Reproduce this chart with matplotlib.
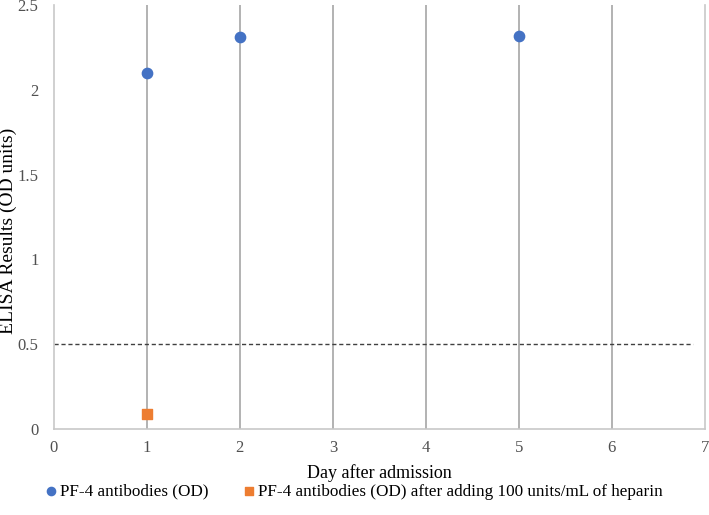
import matplotlib
matplotlib.use("Agg")
import matplotlib.pyplot as plt

days = [1, 2, 5]
pf4_od = [2.10, 2.31, 2.32]
heparin_days = [1]
heparin_od = [0.09]
threshold = 0.5
x_ticks = [0, 1, 2, 3, 4, 5, 6, 7]
y_ticks = [0, 0.5, 1, 1.5, 2, 2.5]
y_labels = ["0", "0.5", "1", "1.5", "2", "2.5"]

plt.rcParams['font.family'] = ['Liberation Serif', 'DejaVu Serif']
fig = plt.figure(figsize=(7.09, 5.15), dpi=100)
ax = fig.add_axes([0.076, 0.167, 0.918, 0.823])

ax.set_xlim(0, 7)
ax.set_ylim(0, 2.5)
ax.set_xticks(x_ticks)
ax.set_yticks(y_ticks)
ax.set_yticklabels(y_labels)
ax.tick_params(length=0, labelsize=12, colors='#505050')
ax.tick_params(axis='y', pad=11)
ax.tick_params(axis='x', pad=8)
for x in x_ticks[1:-1]:
    ax.axvline(x, color='#a6a6a6', lw=1.2, zorder=1)
ax.spines['top'].set_visible(False)
for s in ['left', 'right', 'bottom']:
    ax.spines[s].set_color('#c8c8c8')
    ax.spines[s].set_linewidth(1.2)

ax.plot([0, 6.87], [threshold, threshold], ls=(0, (3, 2)), color='#404040', lw=1, zorder=2)
ax.scatter(days, pf4_od, s=55, marker='o', color='#4472c4', zorder=3, label='PF-4 antibodies (OD)')
ax.scatter(heparin_days, heparin_od, s=55, marker='s', color='#ed7d31', zorder=3,
           label='PF-4 antibodies (OD) after adding 100 units/mL of heparin')

ax.set_xlabel('Day after admission', fontsize=13, color='#000000', labelpad=6)
ax.set_ylabel('ELISA Results (OD units)', fontsize=14, color='#000000')
ax.yaxis.set_label_coords(-0.056, 0.467)

fig.legend(loc='center', bbox_to_anchor=(0.5, 0.045), ncol=2, frameon=False, fontsize=12.3,
           handlelength=0.6, handletextpad=0.2, columnspacing=2.1, markerscale=0.8)

fig.savefig('out.png', dpi=100)
